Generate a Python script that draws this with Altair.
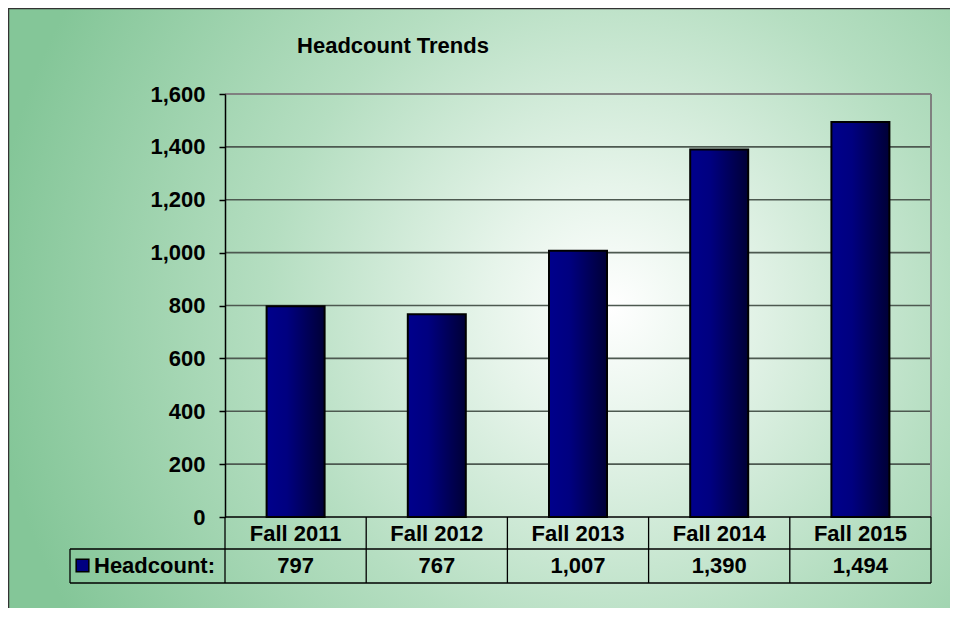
import altair as alt
import pandas as pd

# ---- data ----
categories = ["Fall 2011", "Fall 2012", "Fall 2013", "Fall 2014", "Fall 2015"]
headcount = [797, 767, 1007, 1390, 1494]
y_ticks = [0, 200, 400, 600, 800, 1000, 1200, 1400, 1600]
grid_values = [200, 400, 600, 800, 1000, 1200, 1400]
title_text = "Headcount Trends"
series_name = "Headcount:"

# ---- layout ----
W, H = 706, 423
PL, PT, PR, PB = 217, 86, 19, 91
FONT = "Liberation Sans, Arial, Helvetica, sans-serif"
FS = 22
ROW1 = 455   # bottom of header row (px below plot top)
ROW2 = 489   # bottom of value row
LEG_X = -155

df = pd.DataFrame({"cat": categories, "value": headcount})
grid_df = pd.DataFrame({"v": grid_values})
one = pd.DataFrame({"k": [0]})

xscale = alt.Scale(domain=categories, paddingInner=0, paddingOuter=0)
yscale = alt.Scale(domain=[0, 1600], nice=False, zero=True)

y_axis = alt.Axis(
    values=y_ticks, format=",d", title=None, grid=False,
    labelFont=FONT, labelFontSize=FS, labelFontWeight="bold", labelColor="black",
    labelPadding=14, tickSize=6, tickColor="black", tickWidth=1.5,
    domainColor="black", domainWidth=1.5, zindex=1,
)

bg_fill = {
    "gradient": "radial",
    "x1": 0.64, "y1": 0.5, "r1": 0,
    "x2": 0.64, "y2": 0.5, "r2": 0.66,
    "stops": [
        {"offset": 0, "color": "#ffffff"},
        {"offset": 0.2, "color": "#e6f4ea"},
        {"offset": 0.55, "color": "#b5dec1"},
        {"offset": 1, "color": "#84c698"},
    ],
}
bar_fill = {
    "gradient": "linear",
    "x1": 0, "y1": 0, "x2": 1, "y2": 0,
    "stops": [
        {"offset": 0, "color": "#00008c"},
        {"offset": 0.35, "color": "#000080"},
        {"offset": 1, "color": "#000036"},
    ],
}

bg = alt.Chart(one).mark_rect(fill=bg_fill).encode(
    x=alt.value(-PL), x2=alt.value(W + PR), y=alt.value(-PT), y2=alt.value(H + PB)
)
frame_top = alt.Chart(one).mark_rule(color="#333333", strokeWidth=1.5).encode(
    x=alt.value(-PL), x2=alt.value(W + PR), y=alt.value(-PT + 0.5)
)
frame_left = alt.Chart(one).mark_rule(color="#333333", strokeWidth=1.5).encode(
    x=alt.value(-PL + 0.5), y=alt.value(-PT), y2=alt.value(H + PB)
)

grid = alt.Chart(grid_df).mark_rule(color="#4d5950", strokeWidth=1.6).encode(
    y=alt.Y("v:Q", scale=yscale, axis=y_axis)
)
border_top = alt.Chart(one).mark_rule(color="#808080", strokeWidth=2).encode(
    x=alt.value(0), x2=alt.value(W), y=alt.value(0)
)
border_right = alt.Chart(one).mark_rule(color="#808080", strokeWidth=2).encode(
    x=alt.value(W), y=alt.value(0), y2=alt.value(H)
)

bars = alt.Chart(df).mark_bar(size=58, fill=bar_fill, stroke="black", strokeWidth=2).encode(
    x=alt.X("cat:N", scale=xscale, sort=categories, axis=None),
    y=alt.Y("value:Q", scale=yscale, axis=y_axis),
)

title = alt.Chart(one).mark_text(
    text=title_text, font=FONT, fontSize=FS, fontWeight="bold", color="black",
    align="center", baseline="alphabetic",
).encode(x=alt.value(168), y=alt.value(-41))

# ---- data table below the chart ----
line_style = dict(color="black", strokeWidth=1.3)
zero_line = alt.Chart(one).mark_rule(color="black", strokeWidth=1.5).encode(
    x=alt.value(0), x2=alt.value(W), y=alt.value(H)
)
h1 = alt.Chart(one).mark_rule(**line_style).encode(
    x=alt.value(LEG_X), x2=alt.value(W), y=alt.value(ROW1)
)
h2 = alt.Chart(one).mark_rule(**line_style).encode(
    x=alt.value(LEG_X), x2=alt.value(W), y=alt.value(ROW2)
)
vlines = alt.Chart(df).mark_rule(**line_style).encode(
    x=alt.X("cat:N", scale=xscale, sort=categories, bandPosition=0, axis=None),
    y=alt.value(H), y2=alt.value(ROW2),
)
vright = alt.Chart(one).mark_rule(**line_style).encode(
    x=alt.value(W), y=alt.value(H), y2=alt.value(ROW2)
)
vleft = alt.Chart(one).mark_rule(**line_style).encode(
    x=alt.value(LEG_X), y=alt.value(ROW1), y2=alt.value(ROW2)
)
header = alt.Chart(df).mark_text(
    font=FONT, fontSize=FS, fontWeight="bold", color="black", baseline="alphabetic"
).encode(
    x=alt.X("cat:N", scale=xscale, sort=categories, axis=None),
    y=alt.value(447),
    text="cat:N",
)
values = alt.Chart(df).mark_text(
    font=FONT, fontSize=FS, fontWeight="bold", color="black", baseline="alphabetic"
).encode(
    x=alt.X("cat:N", scale=xscale, sort=categories, axis=None),
    y=alt.value(479),
    text=alt.Text("value:Q", format=",d"),
)
leg_sq = alt.Chart(one).mark_point(
    shape="square", size=160, filled=True, fill="#000080", stroke="black",
    strokeWidth=1.5, opacity=1,
).encode(x=alt.value(-142.5), y=alt.value(471.5))
leg_txt = alt.Chart(one).mark_text(
    text=series_name, font=FONT, fontSize=FS, fontWeight="bold", color="black",
    align="left", baseline="alphabetic",
).encode(x=alt.value(-131), y=alt.value(479))

chart = alt.layer(
    bg, frame_top, frame_left, grid, border_top, border_right, bars,
    zero_line, h1, h2, vlines, vright, vleft, header, values, leg_sq, leg_txt, title,
).properties(
    width=W, height=H,
    autosize=alt.AutoSizeParams(type="none"),
    padding={"left": PL, "top": PT, "right": PR, "bottom": PB},
).configure_view(stroke=None).configure(background="white")

chart.save("out.html", embed_options={"renderer": "svg", "actions": False})
